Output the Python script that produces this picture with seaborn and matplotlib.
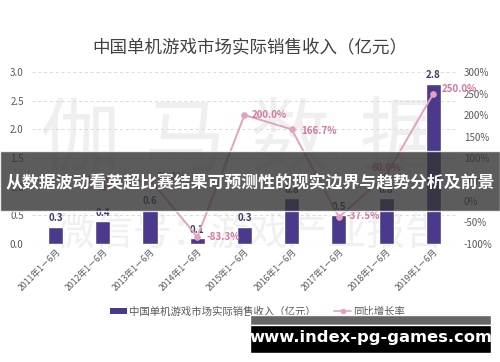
import pandas as pd
import matplotlib.pyplot as plt
import seaborn as sns
from matplotlib.patches import Rectangle
from matplotlib.lines import Line2D
from matplotlib.patches import Patch

# --- Daten ---
periods = ["2011年1－6月", "2012年1－6月", "2013年1－6月", "2014年1－6月", "2015年1－6月",
           "2016年1－6月", "2017年1－6月", "2018年1－6月", "2019年1－6月"]
revenue = [0.3, 0.4, 0.6, 0.1, 0.3, 0.8, 0.5, 0.8, 2.8]
growth_periods = periods[1:]
growth = [33.3, 50.0, -83.3, 200.0, 166.7, -37.5, 60.0, 250.0]
rev_labels = ["0.3", "0.4", "0.6", "0.1", "0.3", "0.8", "0.5", "0.8", "2.8"]

bar_color = "#4B3A8C"
line_color = "#E3A3BF"
label_pink = "#D4769F"
label_dark = "#3C3C6E"

sns.set_theme(style="white")
plt.rcParams["font.family"] = ["Noto Sans CJK SC", "DejaVu Sans"]

df = pd.DataFrame({"period": periods, "revenue": revenue})
gdf = pd.DataFrame({"pos": [periods.index(p) for p in growth_periods], "growth": growth})

fig = plt.figure(figsize=(5, 3.62), dpi=100)
ax = fig.add_axes([0.064, 0.326, 0.85, 0.475])

# Wasserzeichen (hinter den Achsen)
for ch, xx in zip("伽马数据", [0.16, 0.37, 0.58, 0.80]):
    fig.text(xx, 0.61, ch, fontsize=58, color="#efefef", ha="center", va="center",
             fontweight="light", zorder=-5)
fig.text(0.5, 0.355, "微信号：游戏产业报告", fontsize=28, color="#f0f0f0",
         ha="center", va="center", fontweight="light", zorder=-5)

ax.patch.set_alpha(0)
sns.barplot(data=df, x="period", y="revenue", color=bar_color, width=0.32,
            saturation=1, ax=ax, zorder=2)
ax.set_ylim(0, 3.0)
ax.set_xlim(-0.5, 8.5)
ax.set_yticks([0, 0.5, 1.0, 1.5, 2.0, 2.5, 3.0])
ax.set_yticklabels(["0.0", "0.5", "1.0", "1.5", "2.0", "2.5", "3.0"])
ax.yaxis.grid(True, linestyle=(0, (3, 3)), color="#d9d9d9", linewidth=0.7)
ax.set_axisbelow(True)
ax.set_xlabel("")
ax.set_ylabel("")
ax.tick_params(axis="y", labelsize=7, colors="#595959", length=0, pad=6)
ax.tick_params(axis="x", labelsize=6.3, colors="#595959", length=0, pad=2)
for lbl in ax.get_xticklabels():
    lbl.set_rotation(45)
    lbl.set_ha("right")
    lbl.set_rotation_mode("anchor")
for s in ax.spines.values():
    s.set_visible(False)
ax.axhline(0, color="#d9d9d9", linewidth=0.8, zorder=1)

for i, (v, t) in enumerate(zip(revenue, rev_labels)):
    ax.text(i, v + 0.06, t, ha="center", va="bottom", fontsize=7,
            color=label_dark, fontweight="bold", zorder=3)

ax2 = ax.twinx()
ax2.patch.set_alpha(0)
sns.lineplot(data=gdf, x="pos", y="growth", color=line_color, linewidth=1.4,
             marker="o", markersize=4, markeredgecolor=line_color, ax=ax2, zorder=4)
ax2.set_ylim(-100, 300)
ax2.set_yticks(range(-100, 301, 50))
ax2.set_yticklabels([f"{v}%" for v in range(-100, 301, 50)])
ax2.tick_params(axis="y", labelsize=7, colors="#595959", length=0, pad=5)
ax2.set_xlabel("")
ax2.set_ylabel("")
for s in ax2.spines.values():
    s.set_visible(False)

offsets = [(-0.05, 14), (0.15, 6), (0.2, 0), (0.15, 0), (0.2, -4), (0.15, 3), (0.0, 17), (0.18, 10)]
for p, g, (dx, dy) in zip(gdf["pos"], growth, offsets):
    ha = "center" if dx <= 0 else "left"
    ax2.text(p + dx, g + dy, f"{g:.1f}%", ha=ha, va="center", fontsize=7,
             color=label_pink, fontweight="bold", zorder=5)

fig.text(0.5, 0.87, "中国单机游戏市场实际销售收入（亿元）", ha="center", va="center",
         fontsize=12.6, color="#404040")

handles = [Patch(facecolor=bar_color, edgecolor="none"),
           Line2D([0], [0], color=line_color, marker="o", markersize=3, linewidth=1.2)]
fig.legend(handles, ["中国单机游戏市场实际销售收入（亿元）", "同比增长率"],
           loc="center", bbox_to_anchor=(0.515, 0.14), ncol=2, frameon=False,
           fontsize=7.5, handlelength=1.6, handleheight=0.5, columnspacing=1.8,
           labelcolor="#595959", handletextpad=0.2)

# Banner
fig.patches.append(Rectangle((0, 0.417), 1, 0.166, transform=fig.transFigure,
                             facecolor="#333333", alpha=0.8, zorder=10))
fig.text(0.5, 0.495, "从数据波动看英超比赛结果可预测性的现实边界与趋势分析及前景",
         ha="center", va="center", fontsize=12.2, color="white", fontweight="bold", zorder=11)

# URL-Box
fig.patches.append(Rectangle((0.5, 0.103), 0.482, 0.028, transform=fig.transFigure,
                             facecolor="#666666", zorder=10))
fig.patches.append(Rectangle((0.5, 0.025), 0.482, 0.078, transform=fig.transFigure,
                             facecolor="black", zorder=10))
fig.text(0.741, 0.068, "www.index-pg-games.com", ha="center", va="center",
         fontsize=11.8, color="white", fontweight="bold", family="DejaVu Sans", zorder=11)

plt.savefig("out.png", dpi=100)
plt.close()
